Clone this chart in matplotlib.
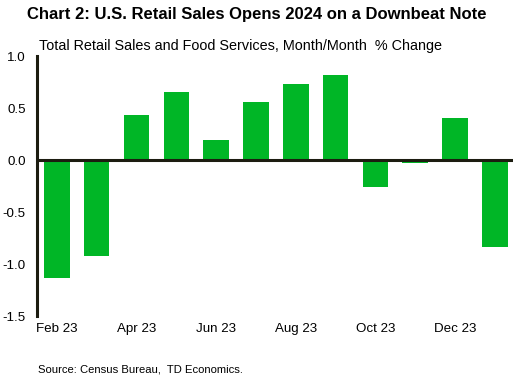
import matplotlib.pyplot as plt
import numpy as np

plt.rcParams['font.family'] = ['Liberation Sans', 'DejaVu Sans']

# Datos: variación mensual (%) ventas minoristas EE.UU.
meses = ['Feb 23', 'Mar 23', 'Apr 23', 'May 23', 'Jun 23', 'Jul 23',
         'Aug 23', 'Sep 23', 'Oct 23', 'Nov 23', 'Dec 23', 'Jan 24']
valores = [-1.13, -0.92, 0.43, 0.65, 0.19, 0.56,
           0.73, 0.82, -0.26, -0.03, 0.40, -0.84]

verde = '#00b626'
oscuro = '#1c1c10'

fig = plt.figure(figsize=(5.16, 3.84), dpi=100)
ax = fig.add_axes([0.0717, 0.177, 0.922, 0.677])

x = np.arange(len(meses))
ax.bar(x, valores, width=0.64, color=verde, zorder=2)
ax.axhline(0, color=oscuro, lw=2.2, zorder=3)

ax.set_xlim(-0.5, 11.45)
ax.set_ylim(-1.5, 1.0)
ax.set_yticks([-1.5, -1.0, -0.5, 0.0, 0.5, 1.0])
ax.set_yticklabels([f'{v:.1f}' for v in [-1.5, -1.0, -0.5, 0.0, 0.5, 1.0]])
ax.set_xticks(x[::2])
ax.set_xticklabels(meses[::2])
ax.tick_params(axis='both', length=0, labelsize=9.6, colors='black')
ax.tick_params(axis='y', pad=8)
ax.tick_params(axis='x', pad=5)

for lado in ['top', 'right', 'bottom']:
    ax.spines[lado].set_visible(False)
ax.spines['left'].set_color(oscuro)
ax.spines['left'].set_linewidth(2.2)

fig.text(257 / 516, 1 - 14 / 384, 'Chart 2: U.S. Retail Sales Opens 2024 on a Downbeat Note',
         ha='center', va='center', fontsize=12, fontweight='bold')
fig.text(39 / 516, 1 - 46 / 384, 'Total Retail Sales and Food Services, Month/Month  % Change',
         ha='left', va='center', fontsize=10.4)
fig.text(38 / 516, 1 - 370 / 384, 'Source: Census Bureau,  TD Economics.',
         ha='left', va='center', fontsize=8.1)

fig.savefig('out.png', dpi=100)
